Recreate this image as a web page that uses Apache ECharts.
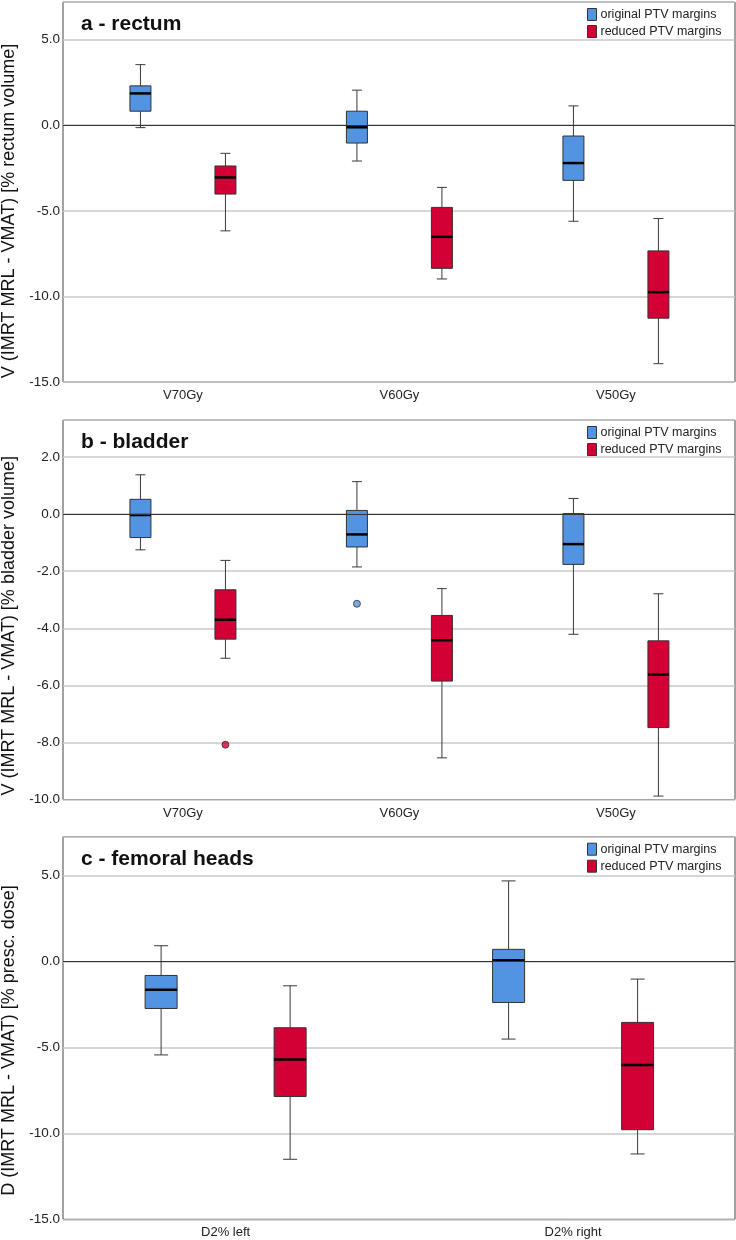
<!DOCTYPE html>
<html><head><meta charset="utf-8">
<script src="https://cdn.jsdelivr.net/npm/echarts@6/dist/echarts.min.js"></script>
<style>html,body{margin:0;padding:0;background:#fff}#chart{width:736px;height:1240px}</style>
</head><body><div id="chart"></div>
<script>
// ---- data: [min, Q1, median, Q3, max] per category ----
const volumeCategories = ['V70Gy', 'V60Gy', 'V50Gy'];
const doseCategories = ['D2% left', 'D2% right'];
const seriesNames = ['original PTV margins', 'reduced PTV margins'];

const rectumOriginal = [
  [-0.14, 0.82, 1.86, 2.30, 3.54],
  [-2.09, -1.04, -0.12, 0.82, 2.05],
  [-5.61, -3.22, -2.21, -0.63, 1.13]
];
const rectumReduced = [
  [-6.17, -4.02, -3.05, -2.38, -1.64],
  [-8.98, -8.36, -6.52, -4.80, -3.63],
  [-13.93, -11.27, -9.75, -7.34, -5.45]
];
const bladderOriginal = [
  [-1.25, -0.82, -0.03, 0.52, 1.38],
  [-1.85, -1.15, -0.71, 0.13, 1.14],
  [-4.21, -1.76, -1.05, 0.02, 0.55]
];
const bladderReduced = [
  [-5.05, -4.38, -3.70, -2.65, -1.62],
  [-8.54, -5.85, -4.42, -3.55, -2.61],
  [-9.88, -7.48, -5.62, -4.44, -2.79]
];
// outliers: [category index, value]
const bladderOriginalOutliers = [[1, -3.14]];
const bladderReducedOutliers = [[0, -8.08]];
const femoralOriginal = [
  [-5.44, -2.74, -1.65, -0.82, 0.91],
  [-4.52, -2.39, 0.06, 0.70, 4.68]
];
const femoralReduced = [
  [-11.51, -7.86, -5.71, -3.86, -1.42],
  [-11.20, -9.79, -6.02, -3.55, -1.03]
];

// ---- styling / layout ----
const BLUE = '#5294E2';
const RED = '#D20035';
const FONT = 'Liberation Sans, Arial, sans-serif';

const panels = [
  { title: 'a - rectum', yName: 'V (IMRT MRL - VMAT) [% rectum volume]', cats: volumeCategories,
    orig: rectumOriginal, red: rectumReduced, origOut: [], redOut: [],
    yMin: -15, yMax: 7.2, yInt: 5, top: 2, height: 380, xMin: -0.554, xMax: 2.55,
    dodge: 42.5, boxW: 21, capW: 10, namePad: 38 },
  { title: 'b - bladder', yName: 'V (IMRT MRL - VMAT) [% bladder volume]', cats: volumeCategories,
    orig: bladderOriginal, red: bladderReduced, origOut: bladderOriginalOutliers, redOut: bladderReducedOutliers,
    yMin: -10, yMax: 3.3, yInt: 2, top: 420, height: 379.5, xMin: -0.554, xMax: 2.55,
    dodge: 42.5, boxW: 21, capW: 10, namePad: 32 },
  { title: 'c - femoral heads', yName: 'D (IMRT MRL - VMAT) [% presc. dose]', cats: doseCategories,
    orig: femoralOriginal, red: femoralReduced, origOut: [], redOut: [],
    yMin: -15, yMax: 7.25, yInt: 5, top: 836.7, height: 382.6, xMin: -0.468, xMax: 1.466,
    dodge: 64.5, boxW: 32, capW: 14, namePad: 25 }
];

function boxRenderer(dodge, boxW, capW, fill) {
  return function (params, api) {
    const c = api.value(0);
    const pMin = api.coord([c, api.value(1)]);
    const pQ1 = api.coord([c, api.value(2)]);
    const pMed = api.coord([c, api.value(3)]);
    const pQ3 = api.coord([c, api.value(4)]);
    const pMax = api.coord([c, api.value(5)]);
    const x = pMin[0] + dodge;
    const ln = (x1, y1, x2, y2, w, col) => ({ type: 'line', shape: { x1, y1, x2, y2 }, style: { stroke: col, lineWidth: w } });
    return { type: 'group', children: [
      ln(x, pMax[1], x, pQ3[1], 1, '#3a3a3a'),
      ln(x, pQ1[1], x, pMin[1], 1, '#3a3a3a'),
      ln(x - capW / 2, pMax[1], x + capW / 2, pMax[1], 1, '#3a3a3a'),
      ln(x - capW / 2, pMin[1], x + capW / 2, pMin[1], 1, '#3a3a3a'),
      { type: 'rect', shape: { x: x - boxW / 2, y: pQ3[1], width: boxW, height: pQ1[1] - pQ3[1] },
        style: { fill: fill, stroke: '#333', lineWidth: 1 } },
      ln(x - boxW / 2, pMed[1], x + boxW / 2, pMed[1], 2.5, '#000')
    ] };
  };
}

const option = { backgroundColor: '#fff', animation: false, textStyle: { fontFamily: FONT },
  grid: [], xAxis: [], yAxis: [], series: [], title: [], legend: [] };

panels.forEach((p, i) => {
  option.grid.push({ left: 63, right: 1, top: p.top, height: p.height, show: true,
    containLabel: false, outerBoundsMode: 'none',
    borderColor: '#444', borderWidth: 1, backgroundColor: '#fff' });
  option.xAxis.push({ type: 'value', gridIndex: i, min: p.xMin, max: p.xMax,
    axisLine: { show: false }, axisTick: { show: false }, splitLine: { show: false },
    axisLabel: { customValues: p.cats.map((_, k) => k), formatter: v => p.cats[Math.round(v)] || '',
      fontSize: 13, color: '#222', margin: 7, fontFamily: FONT } });
  option.yAxis.push({ type: 'value', gridIndex: i, min: p.yMin, max: p.yMax, interval: p.yInt,
    name: p.yName, nameLocation: 'middle', nameGap: 42,
    nameTextStyle: { fontSize: 18, color: '#111', fontFamily: FONT, padding: [0, p.namePad, 0, 0] },
    axisLine: { show: false }, axisTick: { show: false },
    splitLine: { show: true, lineStyle: { color: '#c8c8c8', width: 1.5 } },
    axisLabel: { showMaxLabel: false, fontSize: 13.5, color: '#222', margin: 3, fontFamily: FONT,
      formatter: v => v.toFixed(1) } });
  option.title.push({ text: p.title, left: 76, top: p.top + 7,
    textStyle: { fontSize: 21, fontWeight: 'bold', color: '#111', fontFamily: FONT } });
  option.legend.push({ orient: 'vertical', left: 587, top: p.top + 6, itemWidth: 9, itemHeight: 12, itemGap: 4,
    padding: 0, selectedMode: false,
    textStyle: { fontSize: 12.5, color: '#222', fontFamily: FONT, padding: [0, 0, 0, -1] },
    data: [
      { name: seriesNames[0], icon: 'rect', itemStyle: { color: BLUE, borderColor: '#333', borderWidth: 1 } },
      { name: seriesNames[1], icon: 'rect', itemStyle: { color: RED, borderColor: '#333', borderWidth: 1 } }
    ] });
  [[p.orig, BLUE, -p.dodge, p.origOut], [p.red, RED, p.dodge, p.redOut]].forEach(([stats, col, off, outs], s) => {
    option.series.push({ type: 'custom', name: seriesNames[s], xAxisIndex: i, yAxisIndex: i,
      itemStyle: { color: col },
      data: stats.map((st, k) => [k].concat(st)),
      encode: { x: 0, y: [1, 2, 3, 4, 5] },
      renderItem: boxRenderer(off, p.boxW, p.capW, col),
      markLine: s === 0 ? { silent: true, symbol: 'none', label: { show: false },
        lineStyle: { color: '#333', width: 1, type: 'solid' }, data: [{ yAxis: 0 }] } : undefined,
      z: 3 });
    if (outs.length) {
      option.series.push({ type: 'scatter', name: seriesNames[s], xAxisIndex: i, yAxisIndex: i,
        data: outs, symbol: 'circle', symbolSize: 7, symbolOffset: [off, 0],
        itemStyle: { color: col, borderColor: '#333', borderWidth: 1 }, z: 4 });
    }
  });
});

const chart = echarts.init(document.getElementById('chart'), null, { renderer: 'canvas' });
chart.setOption(option);
</script>
</body></html>
